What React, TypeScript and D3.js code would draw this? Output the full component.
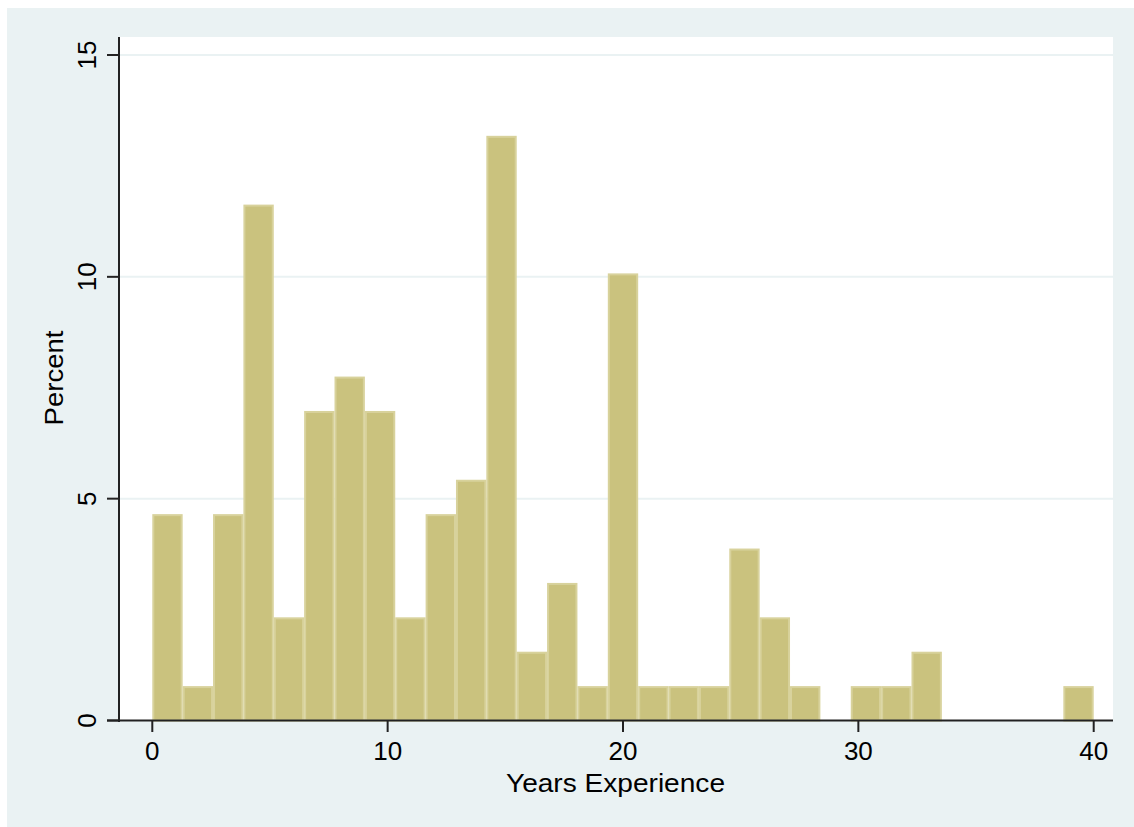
import React from "react";
import * as d3 from "d3";

const binCount = 31;
const xMin = 0;
const xMax = 40;
const totalN = 129;
const binCounts = [6, 1, 6, 15, 3, 9, 10, 9, 3, 6, 7, 17, 2, 4, 1, 13, 1, 1, 1, 5, 3, 1, 0, 1, 1, 2, 0, 0, 0, 0, 1];
const xTicks = [0, 10, 20, 30, 40];
const yTicks = [0, 5, 10, 15];

export default function App() {
  const W = 1134, H = 827;
  const plot = { left: 119, right: 1113, top: 37, bottom: 721 };
  const x = d3.scaleLinear().domain([xMin, xMax]).range([152.3, 1093.7]);
  const y = d3.scaleLinear().domain([0, 15]).range([720.5, 55]);
  const bw = (xMax - xMin) / binCount;
  const bins = binCounts.map((c, i) => ({ x0: xMin + i * bw, x1: xMin + (i + 1) * bw, pct: (c / totalN) * 100 }));
  const font = "'Liberation Sans', Arial, Helvetica, sans-serif";
  return (
    <svg width={W} height={H} style={{ position: "absolute", left: 0, top: 0, background: "#fff" }} fontFamily={font}>
      <rect x={7} y={8} width={W - 7} height={H - 8} fill="#EAF2F3" />
      <rect x={plot.left} y={plot.top} width={plot.right - plot.left} height={plot.bottom - plot.top} fill="#fff" />
      {yTicks.filter(t => t > 0).map(t => (
        <line key={t} x1={plot.left} x2={plot.right} y1={y(t)} y2={y(t)} stroke="#EAF2F3" strokeWidth={2} />
      ))}
      {bins.filter(b => b.pct > 0).map((b, i) => (
        <rect key={i} x={x(b.x0) + 1} y={y(b.pct) + 1} width={x(b.x1) - x(b.x0) - 2} height={y(0) - y(b.pct) - 1}
          fill="#CAC27E" stroke="#D8D29C" strokeWidth={2} />
      ))}
      <line x1={plot.left} x2={plot.left} y1={plot.top} y2={plot.bottom + 1} stroke="#222" strokeWidth={2} />
      <line x1={107} x2={plot.right} y1={720.5} y2={720.5} stroke="#222" strokeWidth={2} />
      {yTicks.map(t => (
        <g key={t}>
          <line x1={107} x2={plot.left} y1={y(t)} y2={y(t)} stroke="#222" strokeWidth={2} />
          <text transform={`translate(96,${y(t)}) rotate(-90)`} textAnchor="middle" fontSize={26} fill="#000">{t}</text>
        </g>
      ))}
      {xTicks.map(t => (
        <g key={t}>
          <line x1={x(t)} x2={x(t)} y1={720.5} y2={732} stroke="#222" strokeWidth={2} />
          <text x={x(t)} y={760} textAnchor="middle" fontSize={26} fill="#000">{t}</text>
        </g>
      ))}
      <text x={615.5} y={792} textAnchor="middle" fontSize={26} fill="#000" textLength={219} lengthAdjust="spacingAndGlyphs">Years Experience</text>
      <text transform={`translate(63,${378}) rotate(-90)`} textAnchor="middle" fontSize={26} fill="#000" textLength={95} lengthAdjust="spacingAndGlyphs">Percent</text>
    </svg>
  );
}
